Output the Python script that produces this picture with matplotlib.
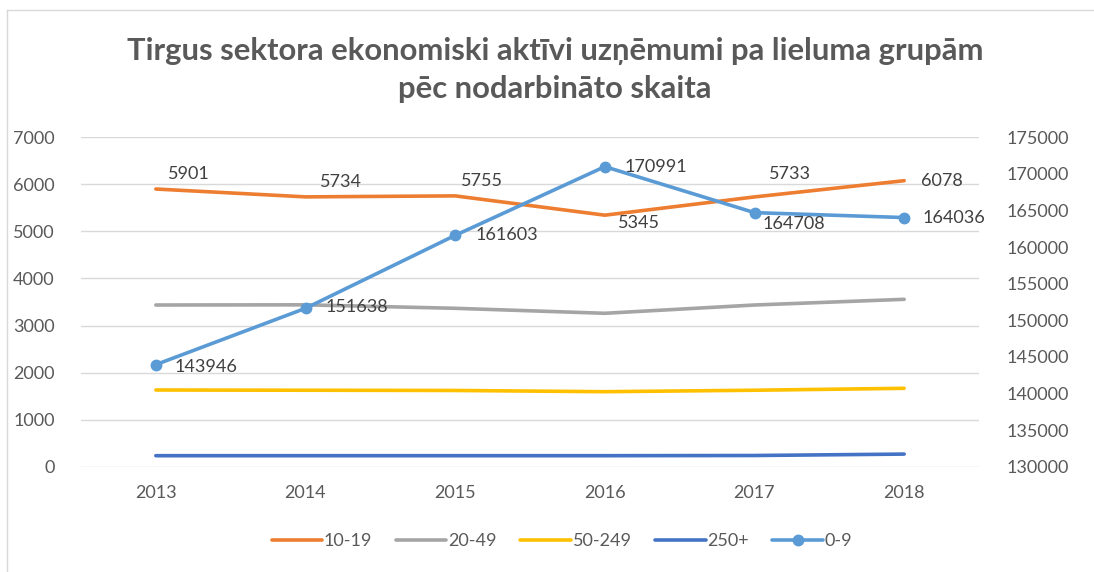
import matplotlib
matplotlib.use("Agg")
import matplotlib.pyplot as plt
from matplotlib.lines import Line2D

plt.rcParams['font.family'] = ['Lato', 'DejaVu Sans']

years = ['2013', '2014', '2015', '2016', '2017', '2018']
g10_19 = [5901, 5734, 5755, 5345, 5733, 6078]
g20_49 = [3436, 3440, 3366, 3260, 3436, 3557]
g50_249 = [1630, 1625, 1620, 1594, 1625, 1666]
g250 = [234, 234, 234, 234, 238, 268]
g0_9 = [143946, 151638, 161603, 170991, 164708, 164036]

txt = '#595959'
W, H = 1094, 572
fig = plt.figure(figsize=(W / 100, H / 100), dpi=100)

# chart border (only top and left edges visible in the screenshot)
fig.add_artist(Line2D([7 / W, 7 / W], [0, 1 - 10 / H], transform=fig.transFigure, color='#d9d9d9', lw=1))
fig.add_artist(Line2D([7 / W, 1], [1 - 10 / H, 1 - 10 / H], transform=fig.transFigure, color='#d9d9d9', lw=1))

ax = fig.add_axes([81 / W, 1 - 466.7 / H, (979 - 81) / W, (466.7 - 137.3) / H])
ax2 = ax.twinx()
x = list(range(len(years)))

l1, = ax.plot(x, g10_19, color='#ED7D31', lw=2.6, solid_capstyle='round', label='10-19')
l2, = ax.plot(x, g20_49, color='#A5A5A5', lw=2.6, solid_capstyle='round', label='20-49')
l3, = ax.plot(x, g50_249, color='#FFC000', lw=2.6, solid_capstyle='round', label='50-249')
l4, = ax.plot(x, g250, color='#4472C4', lw=2.6, solid_capstyle='round', label='250+')
l5, = ax2.plot(x, g0_9, color='#5B9BD5', lw=2.6, marker='o', ms=7.5, solid_capstyle='round', label='0-9')

ax.set_xlim(-0.5, len(years) - 0.5)
ax.set_ylim(0, 7000)
ax.set_yticks(range(0, 7001, 1000))
ax2.set_ylim(130000, 175000)
ax2.set_yticks(range(130000, 175001, 5000))
ax.set_xticks(x)
ax.set_xticklabels(years)

ax.grid(axis='y', color='#d9d9d9', lw=1)
ax.set_axisbelow(True)
for a in (ax, ax2):
    for s in a.spines.values():
        s.set_visible(False)
    a.tick_params(length=0, labelsize=13, colors=txt)
ax.tick_params(axis='y', pad=19)
ax.tick_params(axis='x', pad=13)
ax2.tick_params(axis='y', pad=20)

# data labels for 10-19
orange_off = [(33, 15), (35, 15), (27, 15), (34, -8), (35, 23), (38, 0)]
for i, v in enumerate(g10_19):
    ax.annotate(str(v), (x[i], v), xytext=orange_off[i], textcoords='offset pixels',
                ha='center', va='center', fontsize=13, color='#404040')

# data labels for 0-9
blue_off = [(19, -2), (20, 1), (20, 0), (20, 0), (8, -11), (18, 0)]
for i, v in enumerate(g0_9):
    ax2.annotate(str(v), (x[i], v), xytext=blue_off[i], textcoords='offset pixels',
                 ha='left', va='center', fontsize=13, color='#404040')

fig.text(555 / W, 1 - 70 / H, 'Tirgus sektora ekonomiski aktīvi uzņēmumi pa lieluma grupām\npēc nodarbināto skaita',
         ha='center', va='center', fontsize=22.3, fontweight='bold', color=txt, linespacing=1.42)

fig.legend(handles=[l1, l2, l3, l4, l5], loc='center', bbox_to_anchor=(562 / W, 1 - 541 / H), ncol=5,
           frameon=False, fontsize=13, labelcolor=txt, handlelength=2.8, handletextpad=0.1,
           columnspacing=1.3)

fig.savefig('out.png', dpi=100)
